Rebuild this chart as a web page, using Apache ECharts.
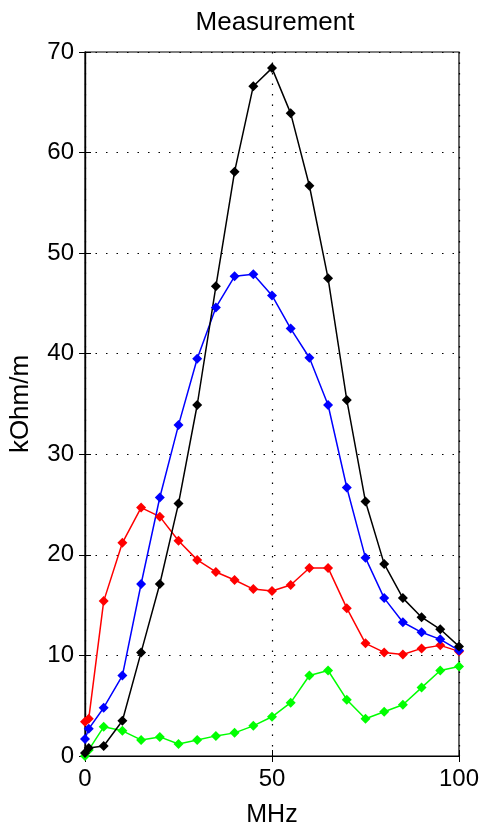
<!DOCTYPE html>
<html>
<head>
<meta charset="utf-8">
<script src="https://cdn.jsdelivr.net/npm/echarts@6/dist/echarts.min.js"></script>
<style>html,body{margin:0;padding:0;background:#fff;}#c{width:482px;height:833px;}</style>
</head>
<body>
<div id="c"></div>
<script>
var freq = [0, 1, 5, 10, 15, 20, 25, 30, 35, 40, 45, 50, 55, 60, 65, 70, 75, 80, 85, 90, 95, 100];
var blackVals = [0.3, 0.8, 1.0, 3.5, 10.3, 17.1, 25.1, 34.9, 46.7, 58.1, 66.6, 68.4, 63.9, 56.7, 47.5, 35.4, 25.3, 19.1, 15.7, 13.8, 12.6, 10.9];
var blueVals = [1.7, 2.7, 4.8, 8.0, 17.1, 25.7, 32.9, 39.5, 44.6, 47.7, 47.9, 45.8, 42.5, 39.6, 34.9, 26.7, 19.7, 15.7, 13.3, 12.3, 11.6, 10.5];
var redVals = [3.4, 3.7, 15.4, 21.2, 24.7, 23.8, 21.4, 19.5, 18.3, 17.5, 16.6, 16.4, 17.0, 18.7, 18.7, 14.7, 11.2, 10.3, 10.1, 10.7, 11.0, 10.4];
var greenVals = [0.0, 0.6, 2.9, 2.5, 1.6, 1.9, 1.2, 1.6, 2.0, 2.3, 3.0, 3.9, 5.3, 8.0, 8.5, 5.6, 3.7, 4.4, 5.1, 6.8, 8.5, 8.9];
var xTicks = [0, 50, 100];
var yTicks = [0, 10, 20, 30, 40, 50, 60, 70];

function pairs(v){ return freq.map(function(f,i){ return [f, v[i]]; }); }
var FONT = 'Liberation Sans';
function mk(name, color, vals){
  return {name:name, type:'line', data:pairs(vals), symbol:'diamond', symbolSize:10,
    lineStyle:{color:color, width:1.5}, itemStyle:{color:color}, animation:false, z:3};
}
var chart = echarts.init(document.getElementById('c'));
var gridDot = {show:true, lineStyle:{color:'#000', type:[1.5,9], width:1.2}};
chart.setOption({
  backgroundColor:'#fff',
  title:{text:'Measurement', left:270, top:5, textAlign:'center',
    textStyle:{fontFamily:FONT, fontSize:26, fontWeight:'normal', color:'#000'}},
  grid:{left:84, right:20, top:52, bottom:74, show:true, borderColor:'#000', borderWidth:1.2},
  xAxis:[{type:'value', min:0, max:100, interval:50, name:'MHz', nameLocation:'middle', nameGap:47,
      nameTextStyle:{fontFamily:FONT, fontSize:25, color:'#000'},
      axisLine:{show:true, lineStyle:{color:'#000', width:1.2}},
      axisTick:{show:true, inside:true, length:6, lineStyle:{color:'#000'}},
      axisLabel:{fontFamily:FONT, fontSize:24, color:'#000', margin:11, formatter:function(v){return xTicks.indexOf(v)>=0?String(v):'';}},
      splitLine:gridDot},
    {type:'value', position:'top', min:0, max:100, interval:50,
      axisLine:{show:true, lineStyle:{color:'#000', width:1.2}},
      axisTick:{show:true, inside:true, length:6, lineStyle:{color:'#000'}},
      axisLabel:{show:false}, splitLine:{show:false}}],
  yAxis:[{type:'value', min:0, max:70, interval:10, name:'kOhm/m', nameLocation:'middle', nameGap:51,
      nameTextStyle:{fontFamily:FONT, fontSize:26, color:'#000'},
      axisLine:{show:true, lineStyle:{color:'#000', width:1.2}},
      axisTick:{show:true, inside:true, length:6, lineStyle:{color:'#000'}},
      axisLabel:{fontFamily:FONT, fontSize:24, color:'#000', margin:11, formatter:function(v){return yTicks.indexOf(v)>=0?String(v):'';}},
      splitLine:gridDot},
    {type:'value', position:'right', min:0, max:70, interval:10,
      axisLine:{show:true, lineStyle:{color:'#000', width:1.2}},
      axisTick:{show:true, inside:true, length:6, lineStyle:{color:'#000'}},
      axisLabel:{show:false}, splitLine:{show:false}}],
  series:[
    mk('green', '#00ff00', greenVals),
    mk('red', '#ff0000', redVals),
    mk('blue', '#0000ff', blueVals),
    mk('black', '#000000', blackVals)
  ]
});
</script>
</body>
</html>
